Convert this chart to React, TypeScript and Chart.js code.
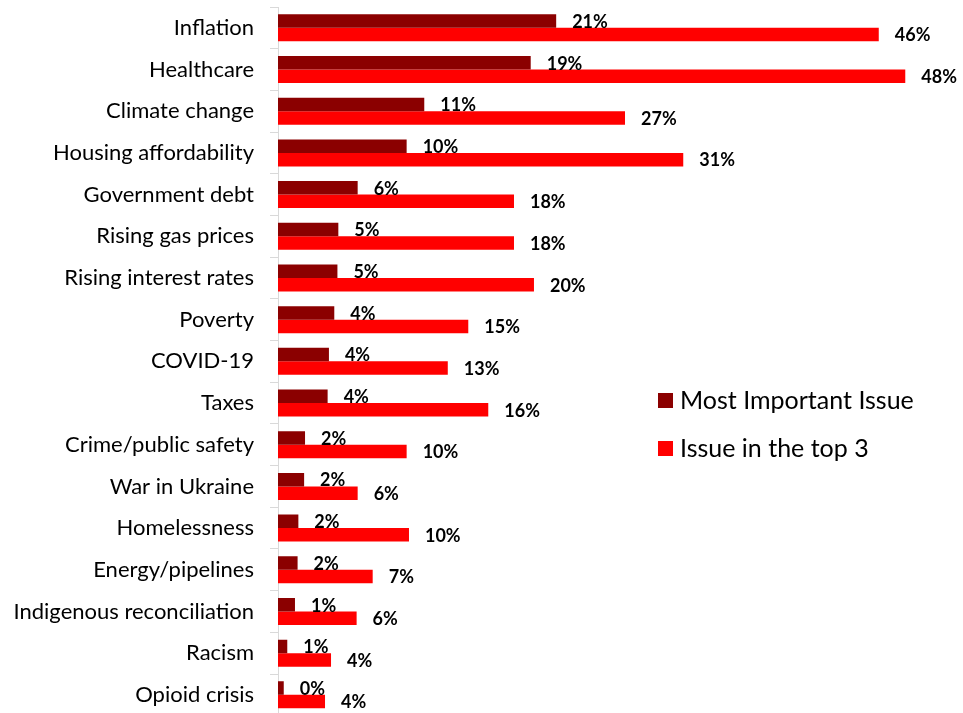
import React, { useEffect, useRef } from "react";
import { Chart, registerables } from "chart.js";

Chart.register(...registerables);

const categories = [
  "Inflation",
  "Healthcare",
  "Climate change",
  "Housing affordability",
  "Government debt",
  "Rising gas prices",
  "Rising interest rates",
  "Poverty",
  "COVID-19",
  "Taxes",
  "Crime/public safety",
  "War in Ukraine",
  "Homelessness",
  "Energy/pipelines",
  "Indigenous reconciliation",
  "Racism",
  "Opioid crisis",
];

const mostImportant = [21.3, 19.35, 11.2, 9.85, 6.1, 4.62, 4.55, 4.31, 3.9, 3.8, 2.07, 2.0, 1.56, 1.5, 1.3, 0.71, 0.44];
const top3 = [46.0, 48.03, 26.57, 31.03, 18.07, 18.07, 19.6, 14.57, 13.0, 16.1, 9.85, 6.1, 10.03, 7.25, 6.02, 4.06, 3.6];

const seriesNames = ["Most Important Issue", "Issue in the top 3"];
const seriesColors = ["#8B0000", "#FF0000"];

const FONT = "Lato, 'Open Sans', sans-serif";

const valueLabels = {
  id: "valueLabels",
  afterDatasetsDraw(chart: any) {
    const ctx = chart.ctx;
    ctx.save();
    ctx.font = `bold 18px ${FONT}`;
    ctx.fillStyle = "#000";
    ctx.textAlign = "left";
    ctx.textBaseline = "middle";
    chart.data.datasets.forEach((ds: any, i: number) => {
      const meta = chart.getDatasetMeta(i);
      meta.data.forEach((el: any, j: number) => {
        ctx.fillText(Math.round(ds.data[j]) + "%", el.x + 16, el.y + 1);
      });
    });
    ctx.restore();
  },
};

const customLegend = {
  id: "customLegend",
  afterDraw(chart: any) {
    const ctx = chart.ctx;
    ctx.save();
    ctx.font = `25px ${FONT}`;
    ctx.textAlign = "left";
    ctx.textBaseline = "middle";
    const x = 658;
    const ys = [393, 441];
    chart.data.datasets.forEach((ds: any, i: number) => {
      ctx.fillStyle = ds.backgroundColor;
      ctx.fillRect(x, ys[i], 15, 15);
      ctx.fillStyle = "#000";
      ctx.fillText(ds.label, x + 22, ys[i] + 8);
    });
    ctx.restore();
  },
};

export default function App() {
  const ref = useRef<HTMLCanvasElement | null>(null);

  useEffect(() => {
    if (!ref.current) return;
    const chart = new Chart(ref.current, {
      type: "bar",
      data: {
        labels: categories,
        datasets: [
          { label: seriesNames[0], data: mostImportant, backgroundColor: seriesColors[0] },
          { label: seriesNames[1], data: top3, backgroundColor: seriesColors[1] },
        ],
      },
      options: {
        indexAxis: "y",
        responsive: false,
        animation: false,
        devicePixelRatio: 1,
        layout: { padding: { left: 0, right: 32, top: 7, bottom: 4.3 } },
        datasets: { bar: { categoryPercentage: 0.648, barPercentage: 1.0 } },
        plugins: {
          legend: { display: false },
          tooltip: { enabled: false },
        },
        scales: {
          x: { display: false, min: 0, max: 50 },
          y: {
            afterFit: (scale: any) => {
              scale.width = 278;
              scale.paddingTop = 0;
              scale.paddingBottom = 0;
            },
            grid: {
              drawOnChartArea: false,
              drawTicks: true,
              tickLength: 8,
              color: "#d9d9d9",
              offset: true,
            },
            border: { display: true, color: "#d9d9d9", width: 1 },
            ticks: {
              color: "#000",
              padding: 16,
              font: { family: FONT, size: 22 },
              autoSkip: false,
            },
          },
        },
      },
      plugins: [valueLabels, customLegend],
    } as any);
    return () => chart.destroy();
  }, []);

  return (
    <div
      style={{
        position: "absolute",
        left: 0,
        top: 0,
        width: 963,
        height: 713,
        overflow: "hidden",
        background: "#fff",
      }}
    >
      <canvas ref={ref} width={963} height={720} style={{ display: "block" }} />
    </div>
  );
}
